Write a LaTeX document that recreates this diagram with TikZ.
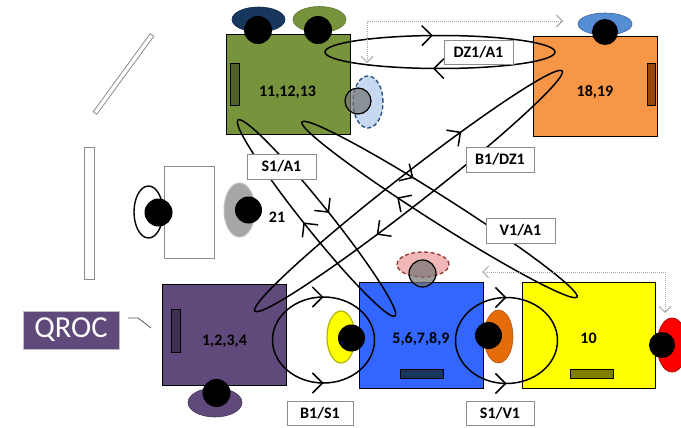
\documentclass[tikz,border=0pt]{standalone}
\usepackage{fontspec}
\setmainfont{Carlito}
\usetikzlibrary{arrows.meta,decorations.markings}
\definecolor{cGreen}{HTML}{77933C}
\definecolor{cGreenD}{HTML}{4F6228}
\definecolor{cNavy}{HTML}{17375E}
\definecolor{cOrange}{HTML}{F79646}
\definecolor{cBrown}{HTML}{984807}
\definecolor{cSky}{HTML}{558ED5}
\definecolor{cPurple}{HTML}{604A7B}
\definecolor{cPurpleD}{HTML}{3F3151}
\definecolor{cBlue}{HTML}{3366FF}
\definecolor{cYellow}{HTML}{FFFF00}
\definecolor{cYellowD}{HTML}{B3B300}
\definecolor{cOlive}{HTML}{7F7F00}
\definecolor{cOrangeD}{HTML}{E46C0A}
\definecolor{cRed}{HTML}{FF0000}
\definecolor{cRedD}{HTML}{C00000}
\definecolor{cPink}{HTML}{F2B8B8}
\definecolor{cPinkD}{HTML}{943634}
\definecolor{cLightBlue}{HTML}{C6D9F1}
\definecolor{cLBD}{HTML}{1F497D}
\definecolor{cGray}{HTML}{A6A6A6}
\definecolor{cFrame}{HTML}{8C8C8C}
\begin{document}
\begin{tikzpicture}[x=1pt,y=-1pt,
  >={Straight Barb[length=10pt,width=20pt]},
  box/.style={draw=black,line width=0.8pt,inner sep=0pt},
  bar/.style={draw=black,line width=0.6pt,inner sep=0pt},
  num/.style={font=\bfseries\fontsize{16}{18}\selectfont,anchor=base,inner sep=0pt},
  tag/.style={draw=cFrame,line width=0.8pt,fill=white,inner sep=0pt,
    font=\bfseries\fontsize{16}{18}\selectfont},
  lp/.style={draw=black,line width=1.5pt},
  revmarks/.style 2 args={postaction={decorate,decoration={markings,
    mark=at position #1 with {\arrowreversed{>}},
    mark=at position #2 with {\arrowreversed{>}}}}},
  rightmarks/.style={postaction={decorate,decoration={markings,
    mark=at position 0.25 with {\arrowreversed{>}},
    mark=at position 0.75 with {\arrow{>}}}}},
  outline/.style={draw=cFrame,line width=0.8pt,fill=white,inner sep=0pt},
  dotconn/.style={draw=gray!70,line width=0.9pt,dash pattern=on 1pt off 1pt,
    {Straight Barb[length=6pt,width=12pt,line width=0.9pt]}-{Straight Barb[length=6pt,width=12pt,line width=0.9pt]}},
  pin/.style={fill=black}
]
\useasboundingbox (0,0) rectangle (681,428);

% ---- left side objects
\draw[draw=cFrame,line width=0.8pt,fill=white] (153.8,36.3) -- (150.2,33.7) -- (93.2,111.7) -- (96.8,114.3) -- cycle;
\node[outline,minimum width=10pt,minimum height=132pt] (vbar) at (89,213) {};
\draw[black,line width=1.4pt] (148.5,212) ellipse [x radius=14.5pt,y radius=26pt];
\node[outline,minimum width=50pt,minimum height=92pt] (wbox) at (189,212) {};
\fill[pin] (158.5,212.5) circle [radius=14pt];
\draw[draw=gray!50,line width=1pt,fill=cGray] (239.5,210) ellipse [x radius=15.5pt,y radius=27pt];
\fill[pin] (248.5,210) circle [radius=13.5pt];
\node[num] (n21) at (277,222) {21};

% ---- QROC
\node[fill=cPurple,draw=gray!50,line width=0.8pt,text=white,minimum width=96pt,minimum height=38pt,
  inner sep=0pt,font=\fontsize{30.5}{32}\selectfont] (q) at (71,330) {QROC};
\coordinate (qa) at (128,318);
\coordinate (qb) at (151,328);
\draw[gray!70!black,line width=0.8pt] (qa) -- ++(10,0) -- (qb);

% ---- green box 11,12,13
\node[box,fill=cGreen,minimum width=124pt,minimum height=100pt] (g) at (288,84) {};
\node[bar,fill=cGreenD,minimum width=9pt,minimum height=42pt] (gbar) at (234.5,84) {};
\node[num] (tg) at (287.5,97) {11,12,13};
\draw[draw=cNavy!80!black,line width=0.6pt,fill=cNavy] (258.5,19.5) ellipse [x radius=26.5pt,y radius=12.5pt];
\fill[pin] (258,30) circle [radius=14pt];
\draw[draw=cGreen!80!black,line width=0.6pt,fill=cGreen] (319.5,19.5) ellipse [x radius=26.5pt,y radius=13pt];
\fill[pin] (318,30) circle [radius=14pt];
\draw[draw=cLBD,line width=1.3pt,dash pattern=on 4pt off 2.5pt,fill=cLightBlue] (368,102) ellipse [x radius=15pt,y radius=26pt];
\draw[black,line width=1.2pt,fill=black!55,fill opacity=0.7] (358,101) circle [radius=13pt];

% ---- orange box 18,19
\node[box,fill=cOrange,minimum width=124pt,minimum height=100pt] (o) at (595,86) {};
\node[bar,fill=cBrown,minimum width=8pt,minimum height=42pt] (obar) at (651,84) {};
\node[num] (to) at (595,97) {18,19};
\draw[draw=cSky!70!black,line width=0.6pt,fill=cSky] (605,24) ellipse [x radius=27pt,y radius=11pt];
\fill[pin] (605,32) circle [radius=13pt];

% ---- purple box 1,2,3,4
\node[box,fill=cPurple,minimum width=124pt,minimum height=101pt] (p) at (224,334.5) {};
\node[bar,fill=cPurpleD,minimum width=9pt,minimum height=43pt] (pbar) at (175.5,330.5) {};
\node[num] (tp) at (224.5,345) {1,2,3,4};
\draw[draw=cPurple!70!black,line width=0.6pt,fill=cPurple] (215,402.5) ellipse [x radius=27pt,y radius=14.5pt];
\fill[pin] (216.5,393) circle [radius=14pt];

% ---- blue box 5,6,7,8,9
\node[box,fill=cBlue,minimum width=124pt,minimum height=106pt] (b) at (421,335) {};
\node[bar,fill=cNavy,minimum width=43pt,minimum height=9pt] (bbar) at (421.5,373.5) {};
\node[num] (tb) at (421,343) {5,6,7,8,9};
\draw[draw=cPinkD,line width=1.3pt,dash pattern=on 4pt off 2.5pt,fill=cPink] (423,264.5) ellipse [x radius=26pt,y radius=12.5pt];
\draw[black,line width=1.2pt,fill=black!55,fill opacity=0.7] (422.5,273.5) circle [radius=13.5pt];
\draw[draw=cYellowD,line width=1.2pt,fill=cYellow] (341,337) ellipse [x radius=14pt,y radius=26pt];
\fill[pin] (351.5,338) circle [radius=13.5pt];
\draw[draw=cOrangeD!80!black,line width=0.6pt,fill=cOrangeD] (498.5,336.5) ellipse [x radius=14.5pt,y radius=26.5pt];
\fill[pin] (488.5,335.5) circle [radius=13.5pt];

% ---- yellow box 10
\node[box,fill=cYellow,minimum width=133pt,minimum height=106pt] (y) at (588.5,335) {};
\node[bar,fill=cOlive,minimum width=43pt,minimum height=9pt] (ybar) at (591.5,373.5) {};
\node[num] (ty) at (588.5,343) {10};
\draw[draw=cRedD,line width=0.8pt,fill=cRed] (672,345) ellipse [x radius=15pt,y radius=27pt];
\fill[pin] (662,345) circle [radius=13pt];

% ---- loops
\draw[lp,revmarks={0.265}{0.735}] (440,52) ellipse [x radius=115pt,y radius=16.5pt];
\draw[lp,shift={(316.5,218)},rotate=-51.3,revmarks={0.2425}{0.7407}] (0,0) ellipse [x radius=125.6pt,y radius=13pt];
\draw[lp,shift={(439.5,209.5)},rotate=-32.47,revmarks={0.309}{0.686}] (0,0) ellipse [x radius=163pt,y radius=13pt];
\draw[lp,shift={(408.5,191)},rotate=38,revmarks={0.151}{0.684}] (0,0) ellipse [x radius=195pt,y radius=15.5pt];
\draw[lp,rightmarks] (323.5,340) ellipse [x radius=51pt,y radius=43pt];
\draw[lp,rightmarks] (506.5,340.5) ellipse [x radius=51pt,y radius=43pt];

% ---- dotted connectors
\coordinate (d1a) at (367,63);
\coordinate (d1b) at (563,21);
\draw[dotconn] (d1a) |- (d1b);
\coordinate (d2a) at (482,272);
\coordinate (d2b) at (665,313);
\draw[dotconn] (d2a) -| (d2b);

% ---- loop labels
\node[tag,minimum width=69pt,minimum height=24pt] (lDZ) at (478.5,52) {DZ1/A1};
\node[tag,minimum width=69pt,minimum height=25pt] (lSA) at (281.5,166.5) {S1/A1};
\node[tag,minimum width=68pt,minimum height=25pt] (lBD) at (500,159.5) {B1/DZ1};
\node[tag,minimum width=69pt,minimum height=25pt] (lVA) at (520.5,230.5) {V1/A1};
\node[tag,minimum width=66pt,minimum height=24pt] (lBS) at (320,413) {B1/S1};
\node[tag,minimum width=68pt,minimum height=24pt] (lSV) at (500,413) {S1/V1};
\end{tikzpicture}
\end{document}
